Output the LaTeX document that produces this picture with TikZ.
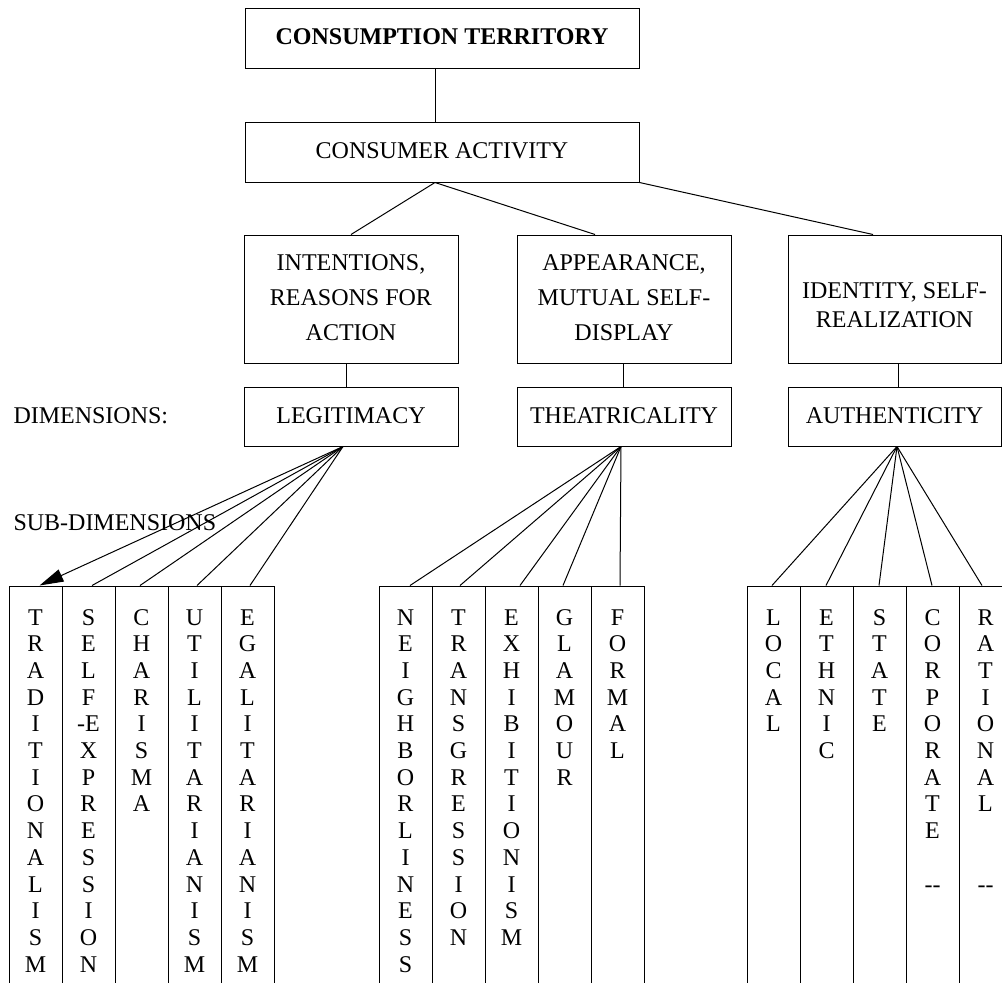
\documentclass[tikz,border=0pt]{standalone}
\usepackage{fontspec}
\setmainfont{Liberation Serif}
\usetikzlibrary{arrows.meta}
\newcommand\vstack[1]{\begin{tabular}[t]{@{}c@{}}#1\end{tabular}}
\begin{document}
\begin{tikzpicture}[x=1pt,y=-1pt,line width=1pt,
  box/.style={draw, rectangle, inner sep=0pt, minimum height=59pt, text height=16pt, text depth=3pt, font=\fontsize{24}{28}\selectfont},
  bigbox/.style={draw, rectangle, inner sep=0pt, minimum width=214pt, minimum height=128pt},
  colbox/.style={draw, rectangle, inner sep=0pt, minimum width=53pt, minimum height=420pt, text height=19pt, text depth=361pt, font=\fontsize{24}{26.7}\selectfont},
  lbl/.style={anchor=base west, inner sep=0pt, font=\fontsize{24}{28}\selectfont},
  link/.style={draw, line width=1pt},
  tip/.style={-{Triangle[length=24pt,width=13pt]}}]
\fill[white] (0,0) rectangle (1002,983);
\useasboundingbox (0,0) rectangle (1002,983);

% boxes
\node[box, minimum width=394pt, minimum height=60pt, font=\bfseries\fontsize{24}{28}\selectfont] (terr) at (442,38) {CONSUMPTION TERRITORY};
\node[box, minimum width=394pt, minimum height=60pt] (cons) at (442,152) {CONSUMER ACTIVITY};
\node[bigbox, text height=20pt, text depth=78pt, font=\fontsize{24}{35}\selectfont] (intent) at (351,299) {\vstack{INTENTIONS,\\REASONS FOR\\ACTION}};
\node[bigbox, text height=20pt, text depth=78pt, font=\fontsize{24}{35}\selectfont] (appear) at (624,299) {\vstack{APPEARANCE,\\MUTUAL SELF-\\DISPLAY}};
\node[bigbox, minimum width=213pt, text height=20pt, text depth=22pt, font=\fontsize{24}{29}\selectfont] (ident) at (894.5,299) {\vstack{IDENTITY, SELF-\\REALIZATION}};
\node[box, minimum width=214pt] (legit) at (351,416.5) {LEGITIMACY};
\node[box, minimum width=214pt] (theat) at (624,416.5) {THEATRICALITY};
\node[box, minimum width=213pt] (auth) at (894.5,416.5) {AUTHENTICITY};

% side labels
\node[lbl] (dim) at (13,423) {DIMENSIONS:};
\node[lbl] (subdim) at (13,530) {SUB-DIMENSIONS};

% columns: legitimacy
\node[colbox] (c11) at (35.5,796) {\vstack{T\\R\\A\\D\\I\\T\\I\\O\\N\\A\\L\\I\\S\\M}};
\node[colbox] (c12) at (88.5,796) {\vstack{S\\E\\L\\F\\-E\\X\\P\\R\\E\\S\\S\\I\\O\\N}};
\node[colbox] (c13) at (141.5,796) {\vstack{C\\H\\A\\R\\I\\S\\M\\A}};
\node[colbox] (c14) at (194.5,796) {\vstack{U\\T\\I\\L\\I\\T\\A\\R\\I\\A\\N\\I\\S\\M}};
\node[colbox] (c15) at (247.5,796) {\vstack{E\\G\\A\\L\\I\\T\\A\\R\\I\\A\\N\\I\\S\\M}};
% columns: theatricality
\node[colbox] (c21) at (405.5,796) {\vstack{N\\E\\I\\G\\H\\B\\O\\R\\L\\I\\N\\E\\S\\S}};
\node[colbox] (c22) at (458.5,796) {\vstack{T\\R\\A\\N\\S\\G\\R\\E\\S\\S\\I\\O\\N}};
\node[colbox] (c23) at (511.5,796) {\vstack{E\\X\\H\\I\\B\\I\\T\\I\\O\\N\\I\\S\\M}};
\node[colbox] (c24) at (564.5,796) {\vstack{G\\L\\A\\M\\O\\U\\R}};
\node[colbox] (c25) at (617.5,796) {\vstack{F\\O\\R\\M\\A\\L}};
% columns: authenticity
\node[colbox] (c31) at (773.5,796) {\vstack{L\\O\\C\\A\\L}};
\node[colbox] (c32) at (826.5,796) {\vstack{E\\T\\H\\N\\I\\C}};
\node[colbox] (c33) at (879.5,796) {\vstack{S\\T\\A\\T\\E}};
\node[colbox] (c34) at (932.5,796) {\vstack{C\\O\\R\\P\\O\\R\\A\\T\\E\\ \\{-}{-}}};
\node[colbox] (c35) at (985.5,796) {\vstack{R\\A\\T\\I\\O\\N\\A\\L\\ \\ \\{-}{-}}};

% hierarchy connectors
\draw[link] ([xshift=-7pt]terr.south) -- ([xshift=-7pt]cons.north);
\draw[link] ([xshift=-7pt]cons.south) -- (intent.north);
\draw[link] ([xshift=-7pt]cons.south) -- ([xshift=-29pt]appear.north);
\draw[link] (cons.south east) -- ([xshift=-21.5pt]ident.north);
\draw[link] ([xshift=-5pt]intent.south) -- ([xshift=-5pt]legit.north);
\draw[link] ([xshift=-1pt]appear.south) -- ([xshift=-1pt]theat.north);
\draw[link] ([xshift=3.5pt]ident.south) -- ([xshift=3.5pt]auth.north);

% fans
\draw[link, tip] ([xshift=-8pt]legit.south) -- ([xshift=4pt]c11.north);
\draw[link] ([xshift=-8pt]legit.south) -- ([xshift=3.5pt]c12.north);
\draw[link] ([xshift=-8pt]legit.south) -- ([xshift=-1.5pt]c13.north);
\draw[link] ([xshift=-8pt]legit.south) -- ([xshift=2.5pt]c14.north);
\draw[link] ([xshift=-8pt]legit.south) -- ([xshift=2.5pt]c15.north);

\draw[link] ([xshift=-3pt]theat.south) -- ([xshift=4.5pt]c21.north);
\draw[link] ([xshift=-3pt]theat.south) -- ([xshift=1.5pt]c22.north);
\draw[link] ([xshift=-3pt]theat.south) -- ([xshift=8.5pt]c23.north);
\draw[link] ([xshift=-3pt]theat.south) -- ([xshift=-1.5pt]c24.north);
\draw[link] ([xshift=-3pt]theat.south) -- ([xshift=2.5pt]c25.north);

\draw[link] ([xshift=2.5pt]auth.south) -- ([xshift=-1.5pt]c31.north);
\draw[link] ([xshift=2.5pt]auth.south) -- ([xshift=-0.5pt]c32.north);
\draw[link] ([xshift=2.5pt]auth.south) -- ([xshift=-0.5pt]c33.north);
\draw[link] ([xshift=2.5pt]auth.south) -- ([xshift=-0.5pt]c34.north);
\draw[link] ([xshift=2.5pt]auth.south) -- ([xshift=-3.5pt]c35.north);
\end{tikzpicture}
\end{document}
